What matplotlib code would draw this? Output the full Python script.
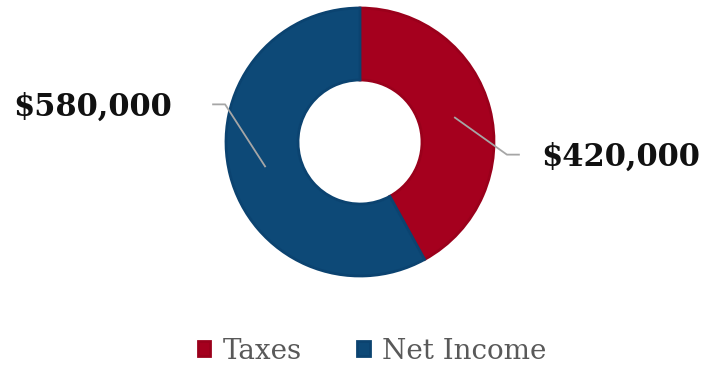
import numpy as np
import matplotlib.pyplot as plt

# data
labels = ['Taxes', 'Net Income']
values = [420000, 580000]
colors = ['#A5001E', '#0D4977']
edge_colors = ['#9A001B', '#0B4370']

fig = plt.figure(figsize=(7.10, 3.71), dpi=100)
ax = fig.add_axes([0, 0, 1, 1])
ax.set_xlim(0, 710)
ax.set_ylim(0, 371)
ax.set_aspect('equal')
ax.axis('off')

cx, cy, r_out, r_in = 360, 229, 134, 62
wedges, _ = ax.pie(values, colors=colors, startangle=90, counterclock=False,
                   center=(cx, cy), radius=r_out,
                   wedgeprops=dict(width=r_out - r_in, linewidth=2))
for w, ec in zip(wedges, edge_colors):
    w.set_edgecolor(ec)

ax.set_xlim(0, 710)
ax.set_ylim(0, 371)

# labels with leader lines
label_font = dict(family='DejaVu Serif', fontweight='bold', fontsize=22, color='#111111')
offsets = [(52, -37, 12, 22), (-40, 62, -12, -41)]  # elbow dx, dy, tail dx, text dx
for w, v, (ex, ey, tx, txt) in zip(wedges, values, offsets):
    ang = np.deg2rad((w.theta1 + w.theta2) / 2)
    rm = (r_out + r_in) / 2
    x0, y0 = cx + rm * np.cos(ang), cy + rm * np.sin(ang)
    x1, y1 = x0 + ex, y0 + ey
    x2 = x1 + tx
    ax.plot([x0, x1, x2], [y0, y1, y1], color='#a6a6a6', lw=1.3)
    ha = 'left' if tx > 0 else 'right'
    ax.text(x2 + txt, y1 - 3, f'${v:,.0f}', ha=ha, va='center', **label_font)

# legend
leg = ax.legend(wedges, labels, loc='lower center', bbox_to_anchor=(0.524, -0.05),
                ncol=2, frameon=False, handlelength=0.45, handleheight=0.45,
                handletextpad=0.45, columnspacing=2.0,
                prop=dict(family='DejaVu Serif', size=20))
for t in leg.get_texts():
    t.set_color('#595959')

fig.savefig('out.png', dpi=100)
